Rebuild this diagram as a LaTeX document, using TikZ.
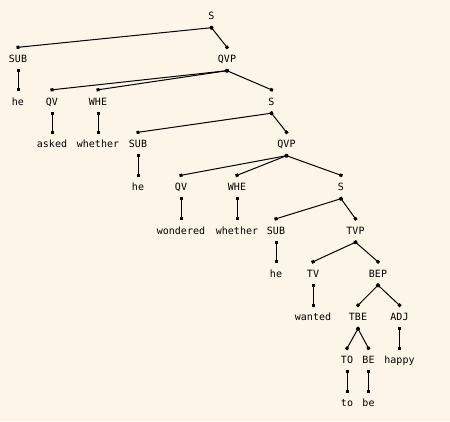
\documentclass[tikz,border=0pt]{standalone}
\usepackage{fontspec}
\setmonofont{DejaVu Sans Mono}
\usetikzlibrary{arrows.meta}
\definecolor{bgc}{RGB}{253,246,232}
\tikzset{
  lab/.style={font=\ttfamily\fontsize{10}{10}\selectfont, inner sep=0pt, text height=7.5pt, text depth=0pt, minimum height=23pt, anchor=center},
  edge/.style={draw=black, line width=1pt, {Square[length=3pt,width=3pt]}-{Square[length=3pt,width=3pt]}, shorten <=-1.5pt, shorten >=-1.5pt}
}
\begin{document}
\begin{tikzpicture}[x=1pt,y=-1pt]
\fill[bgc] (0,0) rectangle (450,421);
\useasboundingbox (0,0) rectangle (450,421);
% level 0
\node[lab] (S0) at (211.5,16) {S};
% level 1
\node[lab] (SUB1) at (18,59) {SUB};
\node[lab] (QVP1) at (227,59) {QVP};
% level 2
\node[lab] (he1) at (18,101.5) {he};
\node[lab] (QV1) at (52,101.5) {QV};
\node[lab] (WHE1) at (98,101.5) {WHE};
\node[lab] (S2) at (271.5,101.5) {S};
% level 3
\node[lab] (asked) at (52,144) {asked};
\node[lab] (whether1) at (98,144) {whether};
\node[lab] (SUB2) at (138,144) {SUB};
\node[lab] (QVP2) at (286.5,144) {QVP};
% level 4
\node[lab] (he2) at (138,187) {he};
\node[lab] (QV2) at (181,187) {QV};
\node[lab] (WHE2) at (237,187) {WHE};
\node[lab] (S3) at (341,187) {S};
% level 5
\node[lab] (wondered) at (181,230.5) {wondered};
\node[lab] (whether2) at (237,230.5) {whether};
\node[lab] (SUB3) at (276,230.5) {SUB};
\node[lab] (TVP) at (355.5,230.5) {TVP};
% level 6
\node[lab] (he3) at (276,273.5) {he};
\node[lab] (TV) at (313,273.5) {TV};
\node[lab] (BEP) at (378,273.5) {BEP};
% level 7
\node[lab] (wanted) at (313,317) {wanted};
\node[lab] (TBE) at (358,317) {TBE};
\node[lab] (ADJ) at (399.5,317) {ADJ};
% level 8
\node[lab] (TO) at (347,360) {TO};
\node[lab] (BE) at (368.5,360) {BE};
\node[lab] (happy) at (399.5,360) {happy};
% level 9
\node[lab] (to) at (347,403) {to};
\node[lab] (be) at (368.5,403) {be};
% edges
\draw[edge] (S0.south) -- (SUB1.north);
\draw[edge] (S0.south) -- (QVP1.north);
\draw[edge] (SUB1.south) -- (he1.north);
\draw[edge] (QVP1.south) -- (QV1.north);
\draw[edge] (QVP1.south) -- (WHE1.north);
\draw[edge] (QVP1.south) -- (S2.north);
\draw[edge] (QV1.south) -- (asked.north);
\draw[edge] (WHE1.south) -- (whether1.north);
\draw[edge] (S2.south) -- (SUB2.north);
\draw[edge] (S2.south) -- (QVP2.north);
\draw[edge] (SUB2.south) -- (he2.north);
\draw[edge] (QVP2.south) -- (QV2.north);
\draw[edge] (QVP2.south) -- (WHE2.north);
\draw[edge] (QVP2.south) -- (S3.north);
\draw[edge] (QV2.south) -- (wondered.north);
\draw[edge] (WHE2.south) -- (whether2.north);
\draw[edge] (S3.south) -- (SUB3.north);
\draw[edge] (S3.south) -- (TVP.north);
\draw[edge] (SUB3.south) -- (he3.north);
\draw[edge] (TVP.south) -- (TV.north);
\draw[edge] (TVP.south) -- (BEP.north);
\draw[edge] (TV.south) -- (wanted.north);
\draw[edge] (BEP.south) -- (TBE.north);
\draw[edge] (BEP.south) -- (ADJ.north);
\draw[edge] (TBE.south) -- (TO.north);
\draw[edge] (TBE.south) -- (BE.north);
\draw[edge] (ADJ.south) -- (happy.north);
\draw[edge] (TO.south) -- (to.north);
\draw[edge] (BE.south) -- (be.north);
\end{tikzpicture}
\end{document}
